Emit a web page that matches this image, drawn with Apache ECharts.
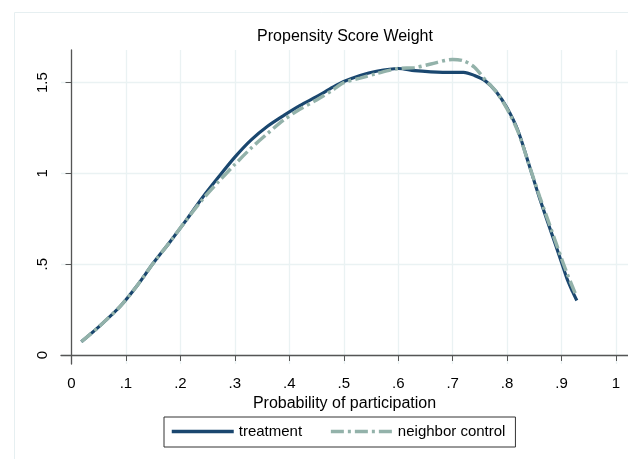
<!DOCTYPE html>
<html>
<head>
<meta charset="utf-8">
<script src="https://cdn.jsdelivr.net/npm/echarts@6/dist/echarts.min.js"></script>
<style>html,body{margin:0;padding:0;background:#fff}#c{width:628px;height:459px}</style>
</head>
<body>
<div id="c"></div>
<script>
const titleText = 'Propensity Score Weight';
const xTitle = 'Probability of participation';
const xTicks = [0, 0.1, 0.2, 0.3, 0.4, 0.5, 0.6, 0.7, 0.8, 0.9, 1];
const yTicks = [0, 0.5, 1, 1.5];
const seriesNames = ['treatment', 'neighbor control'];

const treatX = [0.018,0.05,0.09,0.12,0.15,0.18,0.21,0.24,0.27,0.30,0.33,0.36,0.39,0.42,0.45,0.48,0.50,0.53,0.56,0.60,0.63,0.66,0.70,0.72,0.74,0.76,0.78,0.80,0.82,0.84,0.86,0.88,0.90,0.91,0.92,0.928];
const treatY = [0.073,0.155,0.27,0.38,0.505,0.62,0.74,0.865,0.98,1.09,1.185,1.26,1.32,1.375,1.423,1.475,1.506,1.54,1.563,1.578,1.566,1.56,1.557,1.557,1.54,1.51,1.45,1.36,1.235,1.05,0.86,0.685,0.51,0.42,0.35,0.30];

const ctrlX = [0.018,0.05,0.09,0.12,0.15,0.18,0.21,0.24,0.27,0.30,0.33,0.36,0.39,0.42,0.45,0.48,0.50,0.53,0.56,0.60,0.63,0.66,0.70,0.72,0.74,0.76,0.78,0.80,0.82,0.84,0.86,0.88,0.90,0.91,0.925];
const ctrlY = [0.073,0.155,0.27,0.38,0.505,0.62,0.74,0.855,0.955,1.05,1.14,1.22,1.295,1.355,1.405,1.46,1.50,1.525,1.55,1.578,1.583,1.603,1.628,1.62,1.585,1.515,1.45,1.355,1.23,1.05,0.87,0.70,0.53,0.45,0.34];

function fmt(v){
  let s = String(Math.round(v*10)/10);
  if (s.startsWith('0.')) s = s.slice(1);
  return s;
}

const chart = echarts.init(document.getElementById('c'), null, {renderer:'canvas'});
const font = '"Liberation Sans", Arial, sans-serif';
chart.setOption({
  animation: false,
  backgroundColor: '#ffffff',
  textStyle: {fontFamily: font},
  graphic: [
    {type:'rect', shape:{x:14.5, y:12.5, width:700, height:600}, style:{fill:'none', stroke:'#e6eff1', lineWidth:1}, z:-1},
    {type:'text', x:345, y:37, style:{text:titleText, fontFamily:font, fontSize:16, fill:'#000', textAlign:'center', textVerticalAlign:'middle'}}
  ],
  grid: {left:61, right:0, top:50, bottom:95},
  xAxis: {
    type:'value', min:-0.0193, max:1.022,
    name: xTitle, nameLocation:'middle', nameGap:27,
    nameTextStyle:{fontSize:16, color:'#000', fontFamily:font},
    axisLine:{show:true, lineStyle:{color:'#555', width:1.3}},
    axisTick:{show:true, length:6, lineStyle:{color:'#555'}, customValues: xTicks},
    axisLabel:{fontSize:15, color:'#000', margin:12, customValues: xTicks, formatter: fmt},
    splitLine:{show:true, lineStyle:{color:'#eaf2f3', width:1.3}}
  },
  yAxis: {
    type:'value', min:-0.0496, max:1.68,
    axisLine:{show:true, lineStyle:{color:'#555', width:1.3}},
    axisTick:{show:true, length:6, lineStyle:{color:'#555'}, customValues: yTicks},
    axisLabel:{fontSize:15, color:'#000', margin:11, rotate:90, customValues: yTicks, formatter: fmt},
    splitLine:{show:true, lineStyle:{color:'#eaf2f3', width:1.3}}
  },
  legend: {
    left:164, top:417, orient:'horizontal',
    borderColor:'#333', borderWidth:1, padding:[7,10,8,6],
    itemWidth:62, itemHeight:14, itemGap:27,
    itemStyle:{opacity:0},
    lineStyle:{width:3.5},
    textStyle:{fontSize:15, color:'#000', fontFamily:font},
    data: seriesNames
  },
  series: [
    {name:seriesNames[0], type:'line', data: treatX.map((x,i)=>[x, treatY[i]]), smooth:0.3, symbol:'none',
     lineStyle:{color:'#1a476f', width:3.2}, itemStyle:{color:'#1a476f'}},
    {name:seriesNames[1], type:'line', data: ctrlX.map((x,i)=>[x, ctrlY[i]]), smooth:0.3, symbol:'none',
     lineStyle:{color:'#93b2aa', width:3.5, type:[13,4,3,4]}, itemStyle:{color:'#93b2aa'}}
  ]
});
</script>
</body>
</html>
